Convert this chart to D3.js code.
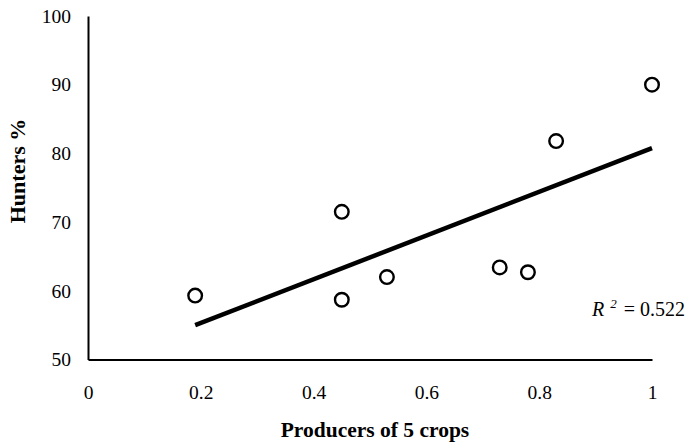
<!DOCTYPE html>
<html>
<head>
<meta charset="utf-8">
<script src="https://cdn.jsdelivr.net/npm/d3@7"></script>
<style>
  body { margin: 0; background: #fff; }
  svg text { font-family: "Liberation Serif", "Times New Roman", serif; fill: #000; }
</style>
</head>
<body>
<div id="chart"></div>
<script>
// values
const producers = [0.19, 0.45, 0.45, 0.53, 0.73, 0.78, 0.83, 1.0];
const hunters = [59.3, 71.5, 58.7, 62.0, 63.4, 62.7, 81.8, 90.0];
const xTicks = [0, 0.2, 0.4, 0.6, 0.8, 1];
const yTicks = [50, 60, 70, 80, 90, 100];
const rSquared = '0.522';

const width = 691, height = 443;
const margin = { top: 16, right: 39, bottom: 83.5, left: 88 };

const svg = d3.select('#chart').append('svg')
  .attr('width', width)
  .attr('height', height);

const x = d3.scaleLinear().domain([0, 1]).range([margin.left, width - margin.right]);
const y = d3.scaleLinear().domain([50, 100]).range([height - margin.bottom, margin.top]);

// axes
const xAxis = svg.append('g')
  .attr('transform', 'translate(0,' + y(50) + ')')
  .call(d3.axisBottom(x).tickValues(xTicks).tickSize(0).tickPadding(0).tickFormat(d3.format('')));
xAxis.select('.domain').attr('stroke', '#000').attr('stroke-width', 2);
xAxis.selectAll('text')
  .attr('font-size', 19.5)
  .attr('dy', null)
  .attr('y', 39);

const yAxis = svg.append('g')
  .attr('transform', 'translate(' + x(0) + ',0)')
  .call(d3.axisLeft(y).tickValues(yTicks).tickSize(0).tickPadding(17));
yAxis.select('.domain').attr('stroke', '#000').attr('stroke-width', 2);
yAxis.selectAll('text').attr('font-size', 19.5);
svg.selectAll('.tick line').remove();

// trend line from least squares
const mx = d3.mean(producers), my = d3.mean(hunters);
let sxy = 0, sxx = 0;
producers.forEach((v, i) => { sxy += (v - mx) * (hunters[i] - my); sxx += (v - mx) * (v - mx); });
const slope = sxy / sxx;
const intercept = my - slope * mx;
const xr = d3.extent(producers);

svg.append('line')
  .attr('x1', x(xr[0]))
  .attr('y1', y(intercept + slope * xr[0]))
  .attr('x2', x(xr[1]))
  .attr('y2', y(intercept + slope * xr[1]))
  .attr('stroke', '#000')
  .attr('stroke-width', 4.5);

// points
svg.selectAll('circle.pt')
  .data(producers)
  .enter()
  .append('circle')
  .attr('class', 'pt')
  .attr('cx', d => x(d))
  .attr('cy', (d, i) => y(hunters[i]))
  .attr('r', 6.8)
  .attr('fill', '#fff')
  .attr('stroke', '#000')
  .attr('stroke-width', 2.4);

// R squared label
const rt = svg.append('text')
  .attr('x', 592)
  .attr('y', 316)
  .attr('font-size', 20);
rt.append('tspan').attr('font-style', 'italic').text('R');
rt.append('tspan').attr('font-size', 13).attr('dx', 6).attr('dy', -8).attr('font-style', 'italic').text('2');
rt.append('tspan').attr('dx', 2).attr('dy', 8).text(' = ' + rSquared);

// axis titles
svg.append('text')
  .attr('x', 375)
  .attr('y', 437)
  .attr('text-anchor', 'middle')
  .attr('font-size', 21.5)
  .attr('font-weight', 'bold')
  .text('Producers of 5 crops');

svg.append('text')
  .attr('transform', 'translate(25,171) rotate(-90)')
  .attr('text-anchor', 'middle')
  .attr('font-size', 22)
  .attr('font-weight', 'bold')
  .text('Hunters %');
</script>
</body>
</html>
